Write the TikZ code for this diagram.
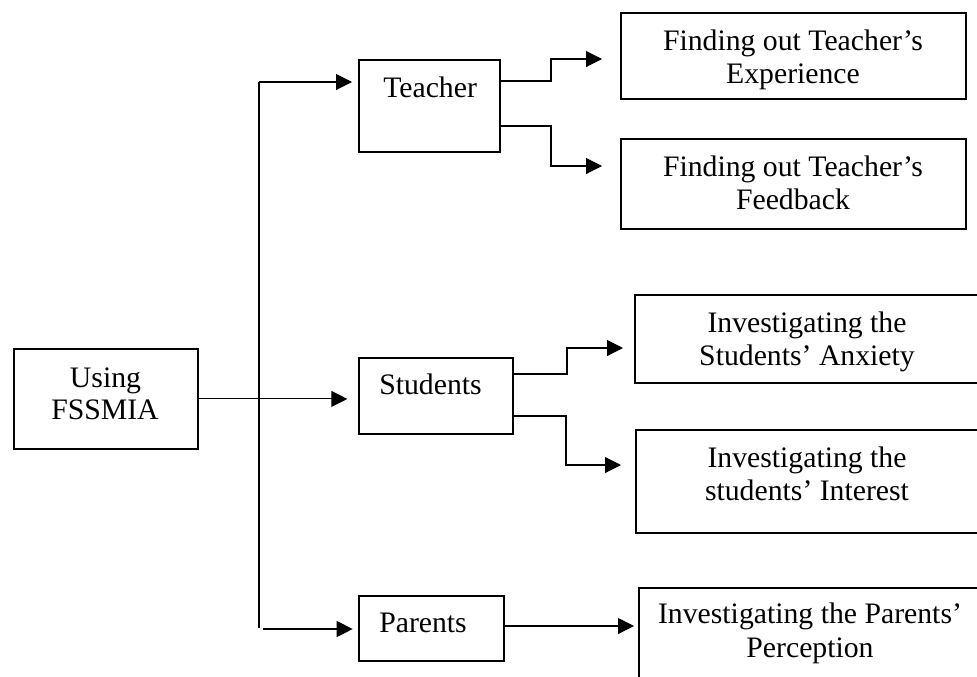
\documentclass[tikz,border=0pt]{standalone}
\usepackage{fontspec}
\setmainfont{Liberation Serif}
\usetikzlibrary{arrows.meta}
\begin{document}
\begin{tikzpicture}[x=0.75pt,y=-0.75pt,
  box/.style={draw, line width=1.4pt, inner sep=0pt, anchor=north west},
  txt/.style={font=\fontsize{22.3}{24.5}\selectfont, inner sep=0pt, anchor=base},
  link/.style={line width=0.8pt},
  arr/.style={link, -{Triangle[length=12pt,width=12pt]}}]
\useasboundingbox (0,0) rectangle (977,676);
\clip (0,0) rectangle (977,676);

% boxes
\node[box, minimum width=138pt, minimum height=75pt] (using) at (13,348) {};
\node[box, minimum width=105.75pt, minimum height=69pt] (teacher) at (358,59) {};
\node[box, minimum width=115.5pt, minimum height=57pt] (students) at (358,357) {};
\node[box, minimum width=108.75pt, minimum height=48.75pt] (parents) at (358,595) {};
\node[box, minimum width=258.75pt, minimum height=64.5pt] (exp) at (620,12) {};
\node[box, minimum width=258.75pt, minimum height=67.5pt] (feed) at (620,138) {};
\node[box, minimum width=270pt, minimum height=66pt] (anx) at (634,294) {};
\node[box, minimum width=270pt, minimum height=77.25pt] (int) at (635,429) {};
\node[box, minimum width=270pt, minimum height=90pt] (perc) at (638,587) {};

% labels
\node[txt] at (105.5,387) {Using};
\node[txt] at (105,419) {FSSMIA};
\node[txt, anchor=base west] at (383,97) {Teacher};
\node[txt, anchor=base west] at (379,394) {Students};
\node[txt, anchor=base west] at (379,632) {Parents};
\node[txt] at (793,50) {Finding out Teacher’s};
\node[txt] at (793,83) {Experience};
\node[txt] at (793,176) {Finding out Teacher’s};
\node[txt] at (793,209) {Feedback};
\node[txt] at (807,332) {Investigating the};
\node[txt] at (807,365) {Students’ Anxiety};
\node[txt] at (807,467) {Investigating the};
\node[txt] at (807,500) {students’ Interest};
\node[txt] at (810,623) {Investigating the Parents’};
\node[txt] at (810,657) {Perception};

% trunk and branches
\coordinate (top) at (259,82);
\coordinate (bot) at (259,628);
\coordinate (pin) at (263,629);
\draw[link] (top) -- (bot);
\draw[arr, shorten >=4.5pt] (top) -- (teacher.west |- top);
\draw[arr, shorten >=8pt] (using.east) -- (students.west |- using.east);
\draw[arr, shorten >=4pt] (pin) -- (parents.west |- pin);

% second-level elbows
\draw[arr, shorten >=13.5pt] (teacher.east |- 0,81) -- (551,81) -- (551,59) -- (exp.west |- 0,59);
\draw[arr, shorten >=13.5pt] (teacher.east |- 0,126) -- (551,126) -- (551,166) -- (feed.west |- 0,166);
\draw[arr, shorten >=8.25pt] (students.east |- 0,374) -- (567,374) -- (567,348) -- (anx.west |- 0,348);
\draw[arr, shorten >=10.5pt] (students.east |- 0,416) -- (566,416) -- (566,465) -- (int.west |- 0,465);
\draw[arr, shorten >=3pt] (parents.east |- 0,626) -- (perc.west |- 0,626);
\end{tikzpicture}
\end{document}
